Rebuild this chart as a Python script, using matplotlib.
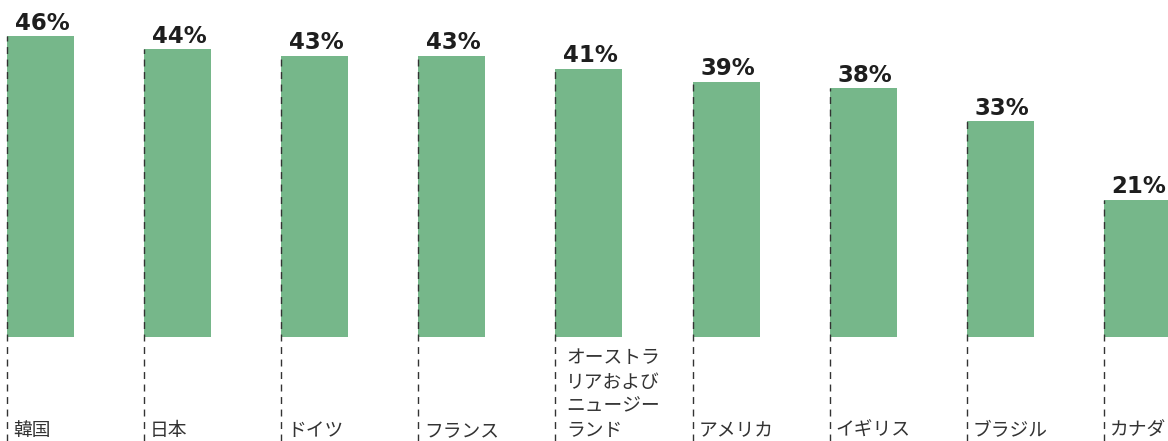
import matplotlib
matplotlib.use("Agg")
import matplotlib.pyplot as plt

# Share of respondents by country (%)
countries = ["韓国", "日本", "ドイツ", "フランス", "オーストラ\nリアおよび\nニュージー\nランド",
             "アメリカ", "イギリス", "ブラジル", "カナダ"]
values = [46, 44, 43, 43, 41, 39, 38, 33, 21]

BAR_COLOR = "#76b78a"
LINE_COLOR = "#333333"
DPI = 100
W, H = 1168, 441

fig = plt.figure(figsize=(W / DPI, H / DPI), dpi=DPI)
ax = fig.add_axes([0, 0, 1, 1])

step_px = 137.1
left_px = 7
width = 67 / step_px
y_min = -15.9
y_max = 51.53

positions = list(range(len(values)))
ax.bar(positions, values, width=width, align="edge", color=BAR_COLOR, zorder=2)

# dashed guide lines from each bar top to the bottom edge
ax.vlines(positions, y_min, values, colors=LINE_COLOR, linestyles=(0, (5, 4)),
          linewidth=1.0, zorder=3)

px = 72 / DPI  # points per pixel
for x, v, name in zip(positions, values, countries):
    ax.annotate(f"{v}%", xy=(x, v), xytext=(7.5 * px, 6.5 * px), textcoords="offset points",
                ha="left", va="baseline", fontsize=16.5, fontweight="bold",
                family="DejaVu Sans", color="#1e1e1e", zorder=4)
    extra = 5 if "\n" in name else 0
    ax.annotate(name, xy=(x, 0), xycoords=("data", "axes fraction"),
                xytext=((6 + extra) * px, 0 * px), textcoords="offset points",
                ha="left", va="bottom", fontsize=13.5, linespacing=1.2,
                family=["Noto Sans CJK JP", "DejaVu Sans"], color="#333333", zorder=4)

ax.set_xlim(-left_px / step_px, (W - left_px) / step_px)
ax.set_ylim(y_min, y_max)
ax.axis("off")

fig.savefig("out.png", dpi=DPI)
